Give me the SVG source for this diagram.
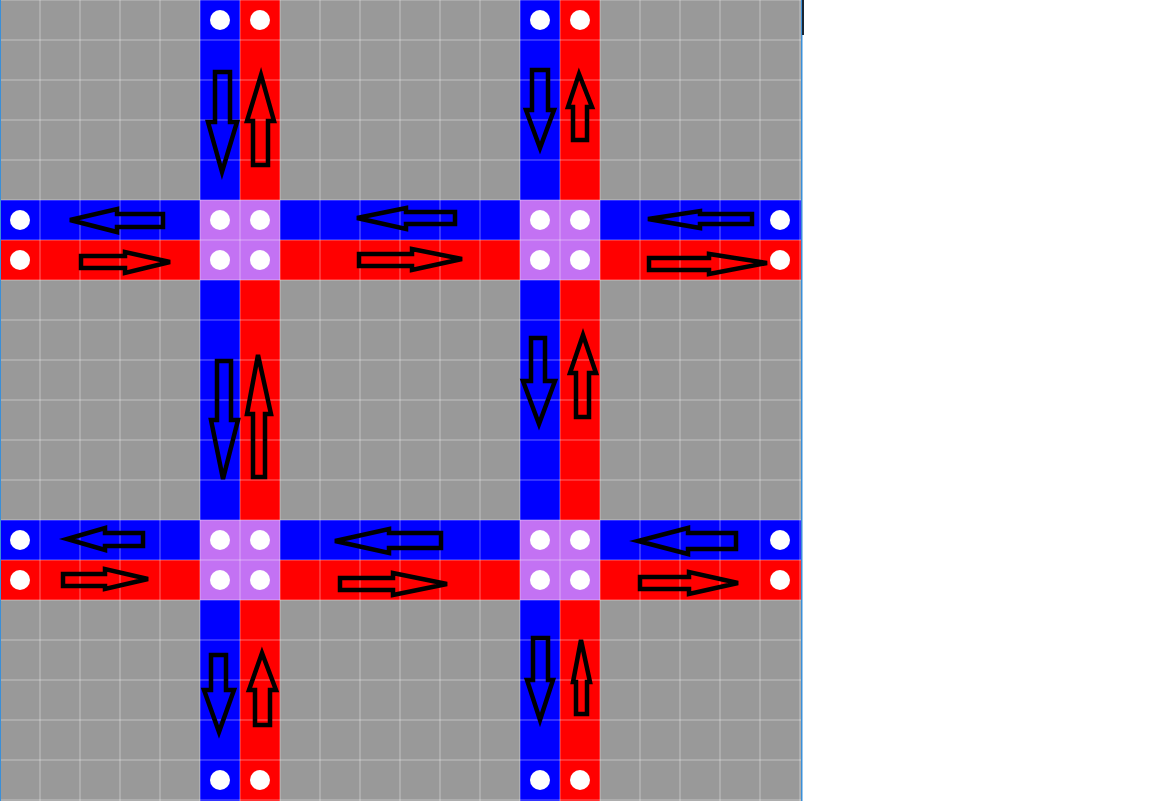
<svg xmlns="http://www.w3.org/2000/svg" width="1152" height="801" viewBox="0 0 1152 801">
<style>
.bg{fill:#999999}
.blue{fill:#0000ff}
.red{fill:#ff0000}
.mix{fill:#c372f3}
.grid{stroke:#ffffff;stroke-opacity:0.2;stroke-width:2;fill:none}
.dot{fill:#ffffff}
.arrow{fill:none;stroke:#000000;stroke-width:4.5;stroke-linejoin:miter}
</style>
<rect x="0" y="0" width="1152" height="801" fill="#ffffff"/>
<g id="field">
<rect class="bg" x="0" y="0" width="801" height="801"/>
</g>
<g id="lanes">
<rect class="blue" x="200" y="0" width="40" height="801"/>
<rect class="red" x="240" y="0" width="40" height="801"/>
<rect class="blue" x="520" y="0" width="40" height="801"/>
<rect class="red" x="560" y="0" width="40" height="801"/>
<rect class="blue" x="0" y="200" width="801" height="40"/>
<rect class="red" x="0" y="240" width="801" height="40"/>
<rect class="blue" x="0" y="520" width="801" height="40"/>
<rect class="red" x="0" y="560" width="801" height="40"/>
</g>
<g id="intersections">
<rect class="mix" x="200" y="200" width="80" height="80"/>
<rect class="mix" x="520" y="200" width="80" height="80"/>
<rect class="mix" x="200" y="520" width="80" height="80"/>
<rect class="mix" x="520" y="520" width="80" height="80"/>
</g>
<g id="grid" class="grid">
<path d="M0,0V801M40,0V801M80,0V801M120,0V801M160,0V801M200,0V801M240,0V801M280,0V801M320,0V801M360,0V801M400,0V801M440,0V801M480,0V801M520,0V801M560,0V801M600,0V801M640,0V801M680,0V801M720,0V801M760,0V801M800,0V801"/>
<path d="M0,0H801M0,40H801M0,80H801M0,120H801M0,160H801M0,200H801M0,240H801M0,280H801M0,320H801M0,360H801M0,400H801M0,440H801M0,480H801M0,520H801M0,560H801M0,600H801M0,640H801M0,680H801M0,720H801M0,760H801M0,800H801"/>
</g>
<g id="border">
<rect x="0" y="0" width="1" height="801" fill="#3a8fd8"/>
<rect x="801" y="0" width="1.5" height="801" fill="#3a8fd8"/>
<rect x="802" y="0" width="2" height="35" fill="#1a2633"/>
</g>
<g id="dots">
<circle class="dot" cx="220" cy="20" r="10"/><circle class="dot" cx="260" cy="20" r="10"/>
<circle class="dot" cx="540" cy="20" r="10"/><circle class="dot" cx="580" cy="20" r="10"/>
<circle class="dot" cx="220" cy="780" r="10"/><circle class="dot" cx="260" cy="780" r="10"/>
<circle class="dot" cx="540" cy="780" r="10"/><circle class="dot" cx="580" cy="780" r="10"/>
<circle class="dot" cx="20" cy="220" r="10"/><circle class="dot" cx="20" cy="260" r="10"/>
<circle class="dot" cx="20" cy="540" r="10"/><circle class="dot" cx="20" cy="580" r="10"/>
<circle class="dot" cx="780" cy="220" r="10"/><circle class="dot" cx="780" cy="260" r="10"/>
<circle class="dot" cx="780" cy="540" r="10"/><circle class="dot" cx="780" cy="580" r="10"/>
<circle class="dot" cx="220" cy="220" r="10"/><circle class="dot" cx="260" cy="220" r="10"/>
<circle class="dot" cx="220" cy="260" r="10"/><circle class="dot" cx="260" cy="260" r="10"/>
<circle class="dot" cx="540" cy="220" r="10"/><circle class="dot" cx="580" cy="220" r="10"/>
<circle class="dot" cx="540" cy="260" r="10"/><circle class="dot" cx="580" cy="260" r="10"/>
<circle class="dot" cx="220" cy="540" r="10"/><circle class="dot" cx="260" cy="540" r="10"/>
<circle class="dot" cx="220" cy="580" r="10"/><circle class="dot" cx="260" cy="580" r="10"/>
<circle class="dot" cx="540" cy="540" r="10"/><circle class="dot" cx="580" cy="540" r="10"/>
<circle class="dot" cx="540" cy="580" r="10"/><circle class="dot" cx="580" cy="580" r="10"/>
</g>
<g id="arrows" class="arrow">
<path d="M215,72 L230,72 L230,122 L237,122 L222,172 L208,122 L215,122 Z"/>
<path d="M253,165 L268,165 L268,121 L274,121 L261,75 L247,121 L253,121 Z"/>
<path d="M163,214 L163,227 L117,227 L117,232 L70,220 L117,209 L117,214 Z"/>
<path d="M81,256 L81,268 L125,268 L125,273 L170,262 L125,252 L125,256 Z"/>
<path d="M532,70 L548,70 L548,110 L554,110 L540,148 L526,110 L532,110 Z"/>
<path d="M573,140 L587,140 L587,107 L592,107 L579,74 L568,107 L573,107 Z"/>
<path d="M455,212 L455,224 L406,224 L406,229 L357,218 L406,208 L406,212 Z"/>
<path d="M359,254 L359,266 L412,266 L412,270 L462,259 L412,249 L412,254 Z"/>
<path d="M752,214 L752,224 L700,224 L700,228 L648,219 L700,211 L700,214 Z"/>
<path d="M649,258 L649,270 L709,270 L709,274 L767,263 L709,254 L709,258 Z"/>
<path d="M217,361 L231,361 L231,420 L238,420 L223,479 L211,420 L217,420 Z"/>
<path d="M253,477 L265,477 L265,414 L271,414 L258,355 L247,414 L253,414 Z"/>
<path d="M531,338 L545,338 L545,381 L555,381 L539,424 L523,381 L531,381 Z"/>
<path d="M576,417 L589,417 L589,373 L596,373 L583,335 L570,373 L576,373 Z"/>
<path d="M143,533 L143,546 L105,546 L105,550 L67,539 L105,528 L105,533 Z"/>
<path d="M63,574 L63,586 L105,586 L105,589 L148,579 L105,569 L105,574 Z"/>
<path d="M441,533 L441,548 L389,548 L389,553 L335,541 L389,529 L389,533 Z"/>
<path d="M340,578 L340,590 L393,590 L393,595 L447,584 L393,573 L393,578 Z"/>
<path d="M736,533 L736,549 L688,549 L688,554 L638,541 L688,528 L688,533 Z"/>
<path d="M640,577 L640,589 L689,589 L689,594 L738,583 L689,572 L689,577 Z"/>
<path d="M211,655 L226,655 L226,690 L234,690 L219,732 L204,690 L211,690 Z"/>
<path d="M255,725 L270,725 L270,690 L276,690 L262,653 L249,690 L255,690 Z"/>
<path d="M533,638 L548,638 L548,680 L553,680 L540,720 L527,680 L533,680 Z"/>
<path d="M576,714 L587,714 L587,682 L590,682 L581,640 L573,682 L576,682 Z"/>
</g>
</svg>
